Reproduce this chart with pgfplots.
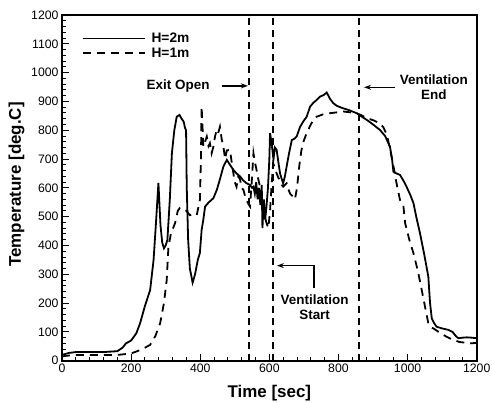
\documentclass[border=0pt]{standalone}
\usepackage{pgfplots}
\pgfplotsset{compat=1.18}
\usepackage{fontspec}
\setmainfont{Liberation Sans}
\usetikzlibrary{arrows.meta}
\begin{document}
\begin{tikzpicture}
\begin{axis}[
  scale only axis, width=414.7bp, height=345.7bp,
  xmin=0, xmax=1200, ymin=0, ymax=1200,
  xtick={0,200,...,1200}, ytick={0,100,...,1200},
  minor x tick num=4, minor y tick num=4,
  tick align=inside, tick pos=left,
  major tick length=7bp, minor tick length=4bp,
  every tick/.style={black, line width=0.9bp},
  axis line style={line width=1.6bp},
  /pgf/number format/assume math mode=true,
  /pgf/number format/1000 sep={},
  tick label style={font=\fontsize{12.3}{12}\selectfont},
  xlabel={Time [sec]}, ylabel={Temperature [deg.C]},
  label style={font=\bfseries\fontsize{17}{17}\selectfont},
  xlabel style={at={(axis description cs:0.5,-0.0926)}, anchor=center},
  ylabel style={at={(axis description cs:-0.1097,0.51)}, anchor=center},
  clip=false,
  legend style={at={(rel axis cs:0.04,0.96)}, anchor=north west, draw=none, fill=none,
    font=\bfseries\fontsize{13.8}{15}\selectfont, row sep=-0.5bp,
    /tikz/every odd column/.append style={column sep=4bp}},
  legend cell align=left,
  legend image code/.code={\draw[#1] (0bp,0bp) -- (62bp,0bp);},
]
\coordinate (ll) at (rel axis cs:0,0);
\coordinate (ur) at (rel axis cs:1,1);
\addplot[black, line width=1.8bp] coordinates {
(0,20) (20,27) (40,30) (80,30) (120,30) (160,33) (175,45) (185,60) (200,70) (215,95)
(226,130) (240,190) (255,245) (265,350) (272,480) (279,617) (285,470) (290,410) (295,390)
(300,400) (305,420) (312,560) (318,720) (325,800) (332,847) (340,853) (346,840) (352,830)
(356,808) (359,800) (361,600) (365,420) (370,320) (378,271) (385,300) (393,350) (399,374)
(404,453) (409,490) (414,535) (425,550) (438,564) (448,593) (457,630) (467,674) (477,697)
(486,680) (496,662) (505,650) (515,640) (525,625) (534,616) (544,610) (550,600) (554,604)
(558,580) (562,620) (566,560) (570,600) (574,540) (578,610) (580,460) (584,560) (588,490)
(592,540) (596,600) (600,700) (602,790) (606,760) (612,700) (616,740) (621,732) (626,690)
(631,650) (636,630) (640,616) (645,640) (650,674) (657,720) (665,766) (672,770) (679,778)
(689,812) (698,830) (708,847) (718,882) (727,895) (737,905) (747,917) (757,922) (766,931)
(775,910) (785,894) (795,885) (805,880) (814,876) (830,870) (853,859) (870,845) (882,836)
(900,820) (920,801) (935,780) (949,743) (955,700) (959,656) (968,650) (978,645) (988,625)
(997,604) (1008,575) (1017,547) (1025,500) (1036,442) (1048,370) (1060,292) (1065,200)
(1070,147) (1077,130) (1084,118) (1100,112) (1118,107) (1130,100) (1140,85) (1147,78)
(1160,80) (1171,81) (1185,80) (1200,78)
};
\addlegendentry{H=2m}
\addplot[black, line width=1.8bp, dash pattern=on 8bp off 6bp] coordinates {
(0,15) (20,18) (40,20) (100,20) (160,20) (200,25) (226,37) (240,45) (255,55) (270,85)
(284,130) (295,200) (303,280) (308,396) (315,440) (327,477) (335,520) (341,530) (350,525)
(360,520) (370,505) (380,510) (390,506) (399,558) (402,700) (404,882) (407,800) (409,743)
(414,760) (419,778) (424,745) (428,755) (433,720) (438,743) (443,780) (448,801) (452,790)
(457,812) (462,770) (467,743) (472,700) (477,730) (486,732) (491,690) (496,650) (500,620)
(505,604) (510,640) (515,630) (520,600) (525,593) (530,570) (534,558) (539,545) (544,535)
(549,620) (554,720) (558,690) (563,662) (568,630) (573,604) (578,560) (582,523) (587,500)
(592,477) (597,460) (602,520) (606,600) (611,685) (616,670) (621,650) (626,635) (631,627)
(636,610) (640,604) (645,610) (650,616) (655,595) (660,580) (669,569) (674,560) (680,600)
(687,680) (693,732) (700,765) (708,790) (718,815) (727,836) (737,847) (755,855) (775,859)
(795,862) (814,865) (835,862) (853,859) (870,850) (882,842) (900,835) (920,824) (930,810)
(940,784) (950,730) (960,670) (968,616) (978,558) (988,535) (993,477) (1005,420) (1017,373)
(1030,310) (1041,245) (1050,190) (1060,130) (1068,115) (1075,112) (1090,100) (1110,85)
(1132,72) (1150,65) (1170,62) (1181,60) (1200,62)
};
\addlegendentry{H=1m}
% event lines
\draw[black, line width=1.6bp, dash pattern=on 7bp off 5bp] (axis cs:541,0) -- (axis cs:541,1200);
\draw[black, line width=1.6bp, dash pattern=on 7bp off 5bp] (axis cs:610,0) -- (axis cs:610,1200);
\draw[black, line width=1.6bp, dash pattern=on 7bp off 5bp] (axis cs:860,0) -- (axis cs:860,1200);
% annotations
\node[font=\bfseries\fontsize{13.5}{14}\selectfont] at (axis cs:336,955) {Exit Open};
\draw[line width=1.3bp, -{Stealth[length=7bp,width=5bp]}] (axis cs:462,954) -- (axis cs:538,954);
\node[font=\bfseries\fontsize{13.5}{15}\selectfont, align=center] at (axis cs:1076,949) {Ventilation\\End};
\draw[line width=1.3bp, -{Stealth[length=7bp,width=5bp]}] (axis cs:963,949) -- (axis cs:874,949);
\node[font=\bfseries\fontsize{13.5}{15}\selectfont, align=center] at (axis cs:731,187) {Ventilation\\Start};
\draw[line width=1.3bp, -{Stealth[length=7bp,width=5bp]}] (axis cs:729,252) -- (axis cs:729,330) -- (axis cs:622,330);
\end{axis}
\pgfresetboundingbox
\path ([shift={(-62bp,-42.3bp)}]ll) rectangle ([shift={(15.3bp,15bp)}]ur);
\end{tikzpicture}
\end{document}
